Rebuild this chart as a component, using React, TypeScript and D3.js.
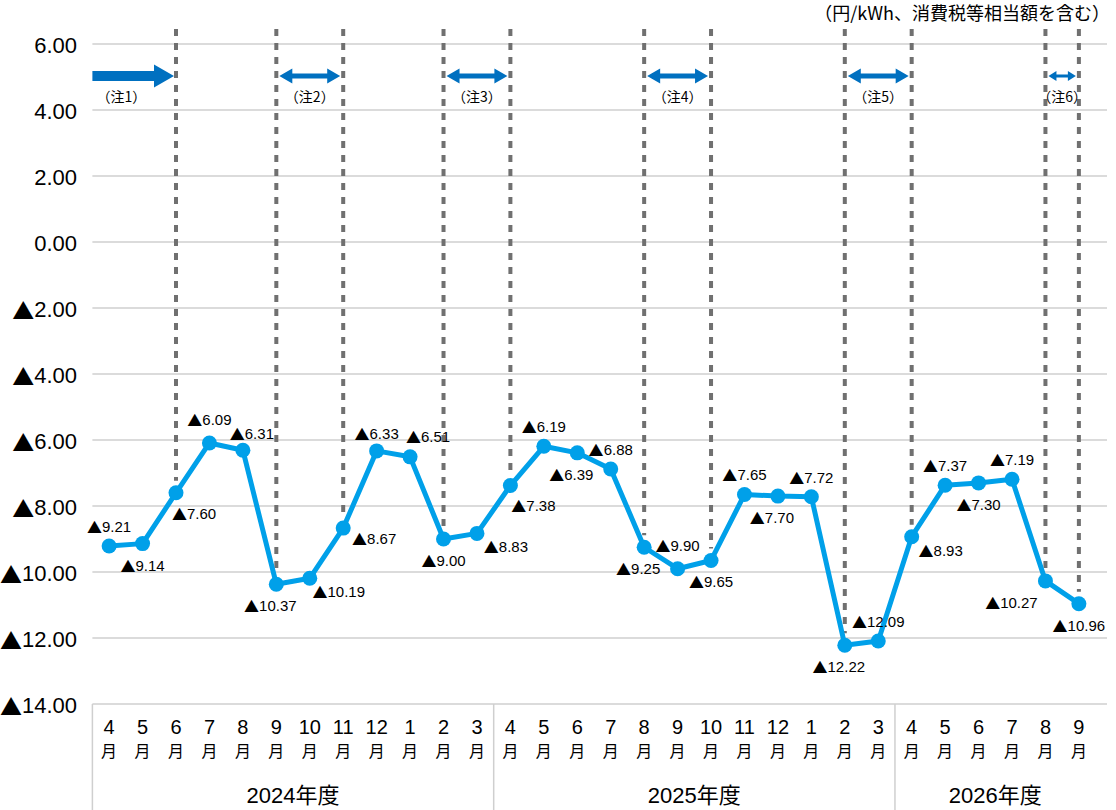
import { useEffect, useRef } from "react";
import * as d3 from "d3";

// 月ラベル（2024年4月〜2026年9月）
const months = [
  "4", "5", "6", "7", "8", "9", "10", "11", "12", "1", "2", "3",
  "4", "5", "6", "7", "8", "9", "10", "11", "12", "1", "2", "3",
  "4", "5", "6", "7", "8", "9",
];

// 値（円/kWh）
const values = [
  -9.21, -9.14, -7.6, -6.09, -6.31, -10.37, -10.19, -8.67, -6.33, -6.51, -9.0, -8.83,
  -7.38, -6.19, -6.39, -6.88, -9.25, -9.9, -9.65, -7.65, -7.7, -7.72, -12.22, -12.09,
  -8.93, -7.37, -7.3, -7.19, -10.27, -10.96,
];

// 年度グループ（開始インデックス, 月数）
const fiscalYears = ["2024年度", "2025年度", "2026年度"];
const fiscalStarts = [0, 12, 24];
const fiscalLengths = [12, 12, 6];

// y軸目盛
const yTicks = [6, 4, 2, 0, -2, -4, -6, -8, -10, -12, -14];

// 点線の位置（月インデックス）
const dividerIdx = [2, 5, 7, 10, 12, 16, 18, 22, 24, 28, 29];

// 注記矢印（開始, 終了）
const noteLabels = ["（注1）", "（注2）", "（注3）", "（注4）", "（注5）", "（注6）"];
const noteFrom = [-1, 5, 10, 16, 22, 28];
const noteTo = [2, 7, 12, 18, 24, 29];

// データラベルの置き方
const labelSpots = [
  "a", "b", "brs", "a2", "ar", "bl", "br", "r", "a3", "ar2", "b", "br",
  "br2", "a", "bl", "a", "bl", "a2", "b", "a", "bl", "a", "bl", "a",
  "br", "a", "b", "a", "l", "b",
];

const spotOffset: Record<string, [number, number]> = {
  a: [0, -20],
  a2: [0, -24],
  a3: [0, -18],
  b: [0, 21],
  brs: [18, 20],
  br: [29, 13],
  br2: [23, 19],
  r: [31, 10],
  ar: [9, -17],
  ar2: [18, -21],
  bl: [-6, 21],
  l: [-34, 21],
};

const FONT = '"Liberation Sans", Arial, "Noto Sans CJK JP", sans-serif';
const CJK = '"Noto Sans CJK JP", "Liberation Sans", sans-serif';

// ▲ 付きの数値（▲だけ CJK フォント）
function writeValue(sel: d3.Selection<SVGTextElement, number, any, any>) {
  sel.each(function (d) {
    const t = d3.select(this);
    if (d < 0) t.append("tspan").style("font-family", CJK).text("▲");
    t.append("tspan").text(Math.abs(d).toFixed(2));
  });
}

function App() {
  const ref = useRef<SVGSVGElement>(null);

  useEffect(() => {
    document.body.style.margin = "0";
    if (!ref.current) return;
    const svg = d3.select(ref.current);
    svg.selectAll("*").remove();

    const left = 92.4;
    const right = 1095.6;
    const gridRight = 1107;
    const top = 44;
    const bottom = 704;

    const x = d3
      .scaleBand<number>()
      .domain(d3.range(months.length))
      .range([left, right]);
    const cx = (i: number) => x(i)! + x.bandwidth() / 2;

    const y = d3.scaleLinear().domain([-14, 6]).range([bottom, top]);

    // 横グリッド
    svg
      .append("g")
      .selectAll("line")
      .data(yTicks)
      .enter()
      .append("line")
      .attr("x1", left)
      .attr("x2", gridRight)
      .attr("y1", (d) => y(d))
      .attr("y2", (d) => y(d))
      .style("stroke", "#cfcfcf")
      .style("stroke-width", 1.5);

    // y軸ラベル
    svg
      .append("g")
      .selectAll<SVGTextElement, number>("text")
      .data(yTicks)
      .enter()
      .append("text")
      .attr("x", 77)
      .attr("y", (d) => y(d) + 1)
      .attr("text-anchor", "end")
      .attr("dominant-baseline", "central")
      .style("font-family", FONT)
      .style("font-size", "22px")
      .style("fill", "#000")
      .call(writeValue);

    // 年度の枠
    const boxLines = fiscalStarts.map((s) => x(s)!);
    svg
      .append("g")
      .selectAll("line")
      .data(boxLines)
      .enter()
      .append("line")
      .attr("x1", (d) => d)
      .attr("x2", (d) => d)
      .attr("y1", bottom)
      .attr("y2", 810)
      .style("stroke", "#cfcfcf")
      .style("stroke-width", 1.5);

    // 月ラベル
    const monthG = svg
      .append("g")
      .selectAll("g")
      .data(months)
      .enter()
      .append("g")
      .attr("transform", (_d, i) => `translate(${cx(i)},0)`);
    monthG
      .append("text")
      .attr("y", 734)
      .attr("text-anchor", "middle")
      .style("font-family", FONT)
      .style("font-size", "20px")
      .text((d) => d);
    monthG
      .append("text")
      .attr("y", 757)
      .attr("text-anchor", "middle")
      .style("font-family", CJK)
      .style("font-size", "16px")
      .text("月");

    // 年度ラベル
    svg
      .append("g")
      .selectAll("text")
      .data(fiscalYears)
      .enter()
      .append("text")
      .attr("x", (_d, i) => {
        const a = x(fiscalStarts[i])!;
        const b = x(fiscalStarts[i] + fiscalLengths[i] - 1)! + x.bandwidth();
        return (a + b) / 2;
      })
      .attr("y", 803)
      .attr("text-anchor", "middle")
      .style("font-family", FONT)
      .style("font-size", "22px")
      .text((d) => d);

    // 点線
    svg
      .append("g")
      .selectAll("line")
      .data(dividerIdx)
      .enter()
      .append("line")
      .attr("x1", (d) => cx(d))
      .attr("x2", (d) => cx(d))
      .attr("y1", 29)
      .attr("y2", (d) => y(values[d]) - 12)
      .style("stroke", "#707070")
      .style("stroke-width", 4)
      .style("stroke-dasharray", "7,7");

    // 注記矢印
    const arrowY = 76;
    const arrowColor = "#0070c0";
    noteLabels.forEach((label, k) => {
      const g = svg.append("g");
      const x1 = cx(noteTo[k]);
      let labelX: number;
      if (noteFrom[k] < 0) {
        const x0 = left;
        const tip = x1 - 2;
        const hb = tip - 20;
        const pts: [number, number][] = [
          [x0, arrowY - 5],
          [hb, arrowY - 5],
          [hb, arrowY - 11.5],
          [tip, arrowY],
          [hb, arrowY + 11.5],
          [hb, arrowY + 5],
          [x0, arrowY + 5],
        ];
        g.append("path")
          .attr("d", d3.line()(pts) + "Z")
          .style("fill", arrowColor);
        labelX = x0 + 29;
      } else {
        const x0 = cx(noteFrom[k]);
        const small = x1 - x0 < 40;
        const hl = small ? 8 : 13;
        const hh = small ? 5 : 7.5;
        const sh = small ? 1.5 : 2.5;
        const a = x0 + 3;
        const b = x1 - 3;
        const pts: [number, number][] = [
          [a, arrowY],
          [a + hl, arrowY - hh],
          [a + hl, arrowY - sh],
          [b - hl, arrowY - sh],
          [b - hl, arrowY - hh],
          [b, arrowY],
          [b - hl, arrowY + hh],
          [b - hl, arrowY + sh],
          [a + hl, arrowY + sh],
          [a + hl, arrowY + hh],
        ];
        g.append("path")
          .attr("d", d3.line()(pts) + "Z")
          .style("fill", arrowColor);
        labelX = (x0 + x1) / 2;
      }
      g.append("text")
        .attr("x", labelX)
        .attr("y", 102)
        .attr("text-anchor", "middle")
        .style("font-family", CJK)
        .style("font-size", "14px")
        .text(label);
    });

    // 単位
    svg
      .append("text")
      .attr("x", 1110)
      .attr("y", 20)
      .attr("text-anchor", "end")
      .style("font-family", CJK)
      .style("font-size", "18px")
      .text("（円/kWh、消費税等相当額を含む）");

    // 折れ線
    const line = d3
      .line<number>()
      .x((_d, i) => cx(i))
      .y((d) => y(d));
    svg
      .append("path")
      .datum(values)
      .attr("d", line)
      .style("fill", "none")
      .style("stroke", "#00a0e9")
      .style("stroke-width", 5)
      .style("stroke-linejoin", "round");

    svg
      .append("g")
      .selectAll("circle")
      .data(values)
      .enter()
      .append("circle")
      .attr("cx", (_d, i) => cx(i))
      .attr("cy", (d) => y(d))
      .attr("r", 7.5)
      .style("fill", "#00a0e9");

    // データラベル
    svg
      .append("g")
      .selectAll<SVGTextElement, number>("text")
      .data(values)
      .enter()
      .append("text")
      .attr("x", (_d, i) => cx(i) + spotOffset[labelSpots[i]][0])
      .attr("y", (d, i) => y(d) + spotOffset[labelSpots[i]][1])
      .attr("text-anchor", "middle")
      .attr("dominant-baseline", "central")
      .style("font-family", FONT)
      .style("font-size", "15px")
      .call(writeValue);
  }, []);

  return (
    <svg
      ref={ref}
      width={1116}
      height={810}
      style={{ display: "block", background: "#fff" }}
    />
  );
}

export default App;
